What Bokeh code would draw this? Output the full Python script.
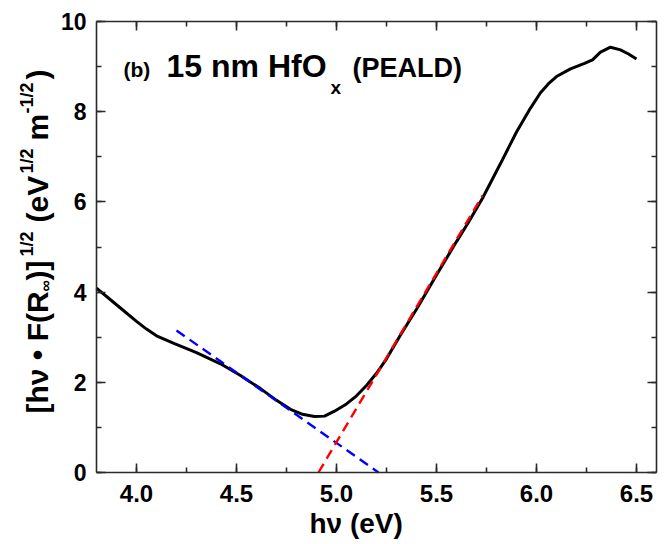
from math import pi
from bokeh.plotting import figure
from bokeh.models import (Label, LinearAxis, SingleIntervalTicker, PrintfTickFormatter,
                          Range1d, CustomJSTickFormatter)
from bokeh.embed import file_html
from bokeh.resources import INLINE

# ---- data ----
energy = [3.80, 3.90, 4.00, 4.05, 4.10, 4.19, 4.30, 4.42, 4.52, 4.62, 4.70, 4.77, 4.83,
          4.89, 4.94, 4.99, 5.05, 5.10, 5.15, 5.20, 5.25, 5.32, 5.40, 5.50, 5.60, 5.66,
          5.73, 5.82, 5.90, 5.97, 6.02, 6.06, 6.10, 6.17, 6.24, 6.28, 6.32, 6.37, 6.42,
          6.46, 6.50]
signal = [4.09, 3.72, 3.35, 3.18, 3.03, 2.86, 2.66, 2.41, 2.15, 1.86, 1.60, 1.40, 1.29,
          1.24, 1.25, 1.36, 1.52, 1.70, 1.93, 2.20, 2.52, 3.05, 3.62, 4.38, 5.12, 5.55,
          6.08, 6.85, 7.55, 8.08, 8.42, 8.62, 8.78, 8.95, 9.07, 9.15, 9.32, 9.43, 9.37,
          9.28, 9.17]
fit_low_x = [4.20, 5.21]
fit_low_y = [3.15, 0.0]
fit_high_x = [4.91, 5.73]
fit_high_y = [0.0, 6.14]

X_BOX = (3.8, 6.6)     # axis box extent (eV)
Y_BOX = (0, 10)
X_TICK_STEP = 0.5
Y_TICK_STEP = 2

FONT = "Liberation Sans"

# ---- layout (page pixels); the plot frame fills the whole canvas ----
W, H = 662, 542
BOX_L, BOX_T = 96, 21          # axis box position on the page
BOX_W, BOX_H = 560, 451
PX_PER_X = BOX_W / (X_BOX[1] - X_BOX[0])
PX_PER_Y = BOX_H / (Y_BOX[1] - Y_BOX[0])
X_START = X_BOX[0] - BOX_L / PX_PER_X
X_END = X_BOX[1] + (W - BOX_L - BOX_W) / PX_PER_X
Y_END = Y_BOX[1] + BOX_T / PX_PER_Y
Y_START = Y_BOX[0] - (H - BOX_T - BOX_H) / PX_PER_Y

p = figure(width=W, height=H, x_range=Range1d(X_START, X_END),
           y_range=Range1d(Y_START, Y_END),
           output_backend="svg", toolbar_location=None,
           x_axis_location=None, y_axis_location=None,
           min_border_left=0, min_border_right=0, min_border_top=0, min_border_bottom=0)
p.grid.visible = False
p.outline_line_color = None

AX_COLOR = "#2a2a2a"


def make_axis(step, location, bounds, label_size=None, fmt=None):
    ax = LinearAxis(ticker=SingleIntervalTicker(interval=step, num_minor_ticks=2),
                    fixed_location=location, bounds=bounds)
    ax.axis_line_color = AX_COLOR
    ax.axis_line_width = 1.6
    ax.major_tick_line_color = AX_COLOR
    ax.major_tick_line_width = 1.6
    ax.minor_tick_line_color = AX_COLOR
    ax.minor_tick_line_width = 1.6
    ax.major_tick_in = 9
    ax.major_tick_out = 0
    ax.minor_tick_in = 5
    ax.minor_tick_out = 0
    if label_size:
        ax.formatter = PrintfTickFormatter(format=fmt)
        ax.major_label_text_font = FONT
        ax.major_label_text_font_style = "bold"
        ax.major_label_text_font_size = label_size
        ax.major_label_text_color = "black"
    else:
        ax.formatter = CustomJSTickFormatter(code="return ''")
        ax.major_label_text_font_size = "1px"
        ax.major_label_standoff = 0
    return ax


xa = make_axis(X_TICK_STEP, Y_BOX[0], X_BOX, "24px", "%.1f")
xa.major_label_standoff = 12
p.add_layout(xa, "below")
p.add_layout(make_axis(X_TICK_STEP, Y_BOX[1], X_BOX), "above")
ya = make_axis(Y_TICK_STEP, X_BOX[0], Y_BOX, "23px", "%d")
ya.major_label_standoff = 10
p.add_layout(ya, "left")
p.add_layout(make_axis(Y_TICK_STEP, X_BOX[1], Y_BOX), "right")

# ---- marks ----
p.line(energy, signal, line_color="black", line_width=3)
p.line(fit_low_x, fit_low_y, line_color="#0000ff", line_width=2.4, line_dash="10 6")
p.line(fit_high_x, fit_high_y, line_color="#ff0000", line_width=2.4, line_dash="10 6")


def page2x(px):
    return X_BOX[0] + (px - BOX_L) / PX_PER_X


def page2y(py):
    return Y_BOX[0] + (BOX_T + BOX_H - py) / PX_PER_Y


# labels are drawn about 0.36 em below the requested baseline; compensate
SHIFT = 0.36


def add_text(txt, px, py, size, angle=0.0):
    if angle:
        px = px - SHIFT * size
    else:
        py = py - SHIFT * size
    p.add_layout(Label(x=page2x(px), y=page2y(py), text=txt, text_font=FONT,
                       text_font_style="bold", text_font_size=f"{size}px",
                       text_color="black", text_align="left",
                       text_baseline="alphabetic", angle=angle))


# Title "(b) 15 nm HfOx (PEALD)"  (page pixels: left end, baseline)
add_text("(b)", 123, 77, 21)
add_text("15 nm HfO", 166, 77, 32)
add_text("x", 330, 94, 19)
add_text("(PEALD)", 352, 77, 27)

# x-axis title
add_text("hν (eV)", 309, 533, 28)

# y-axis title pieces, rotated: (text, bottom end y on page, size, baseline x on page)
ylabel_pieces = [
    ("[hν • F(R", 413, 30, 48),
    ("∞", 291, 16, 51),
    (")]", 280, 30, 48),
    ("1/2", 256, 18, 33),
    ("(eV", 222, 30, 48),
    ("1/2", 173, 18, 33),
    ("m", 140, 30, 48),
    ("-1/2", 113, 18, 33),
    (")", 79, 30, 48),
]
for txt, sy, size, bx in ylabel_pieces:
    add_text(txt, bx, sy, size, angle=pi / 2)

open("out.html", "w").write(file_html(p, INLINE))
